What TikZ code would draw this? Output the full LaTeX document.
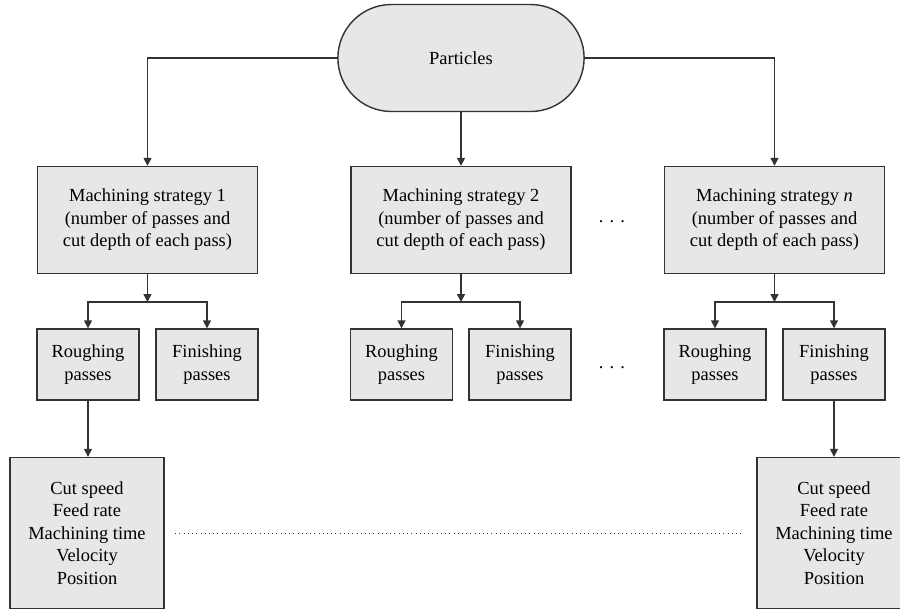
\documentclass[tikz,border=0pt]{standalone}
\usepackage{fontspec}
\setmainfont{Liberation Serif}
\usetikzlibrary{shapes.misc,arrows.meta}
\definecolor{boxfill}{HTML}{E6E7E8}
\definecolor{boxline}{HTML}{333333}
\begin{document}
\begin{tikzpicture}
[
x=0.02cm, y=-0.02cm,
font=\fontsize{10.5}{12.8}\selectfont,
>={Triangle[width=4.5pt,length=4.5pt]},
link/.style={->, draw=boxline, thick},
root/.style={rounded rectangle, draw=boxline, fill=boxfill, thick, minimum width=5.16cm, minimum height=2.14cm},
strat/.style={rectangle, draw=boxline, fill=boxfill, thick, minimum width=4.4cm, minimum height=2.14cm, align=center, inner sep=0},
pass/.style={rectangle, draw=boxline, fill=boxfill, thick, minimum width=2.04cm, minimum height=1.42cm, align=center, inner sep=0},
param/.style={rectangle, draw=boxline, fill=boxfill, thick, minimum width=3.08cm, minimum height=3.02cm, align=center, inner sep=0}
]
\useasboundingbox (0,0) rectangle (900,610);
%Nodes
\node[root]     (part)   at (461,58)    {Particles};
\node[strat]    (s1)     at (147.5,220) {Machining strategy 1\\(number of passes and\\cut depth of each pass)};
\node[strat]    (s2)     at (461,220)   {Machining strategy 2\\(number of passes and\\cut depth of each pass)};
\node[strat]    (sn)     at (774.5,220) {Machining strategy \textit{n}\\(number of passes and\\cut depth of each pass)};
\node           (dots1)  at (612,222)   {.\,\,.\,\,.};
\node[pass]     (r1)     at (88,364.5)  {Roughing\\passes};
\node[pass]     (f1)     at (207,364.5) {Finishing\\passes};
\node[pass]     (r2)     at (401.5,364.5) {Roughing\\passes};
\node[pass]     (f2)     at (520,364.5) {Finishing\\passes};
\node[pass]     (rn)     at (715,364.5) {Roughing\\passes};
\node[pass]     (fn)     at (834,364.5) {Finishing\\passes};
\node           (dots2)  at (612,368)   {.\,\,.\,\,.};
\node[param]    (c1)     at (87,533)    {Cut speed\\Feed rate\\Machining time\\Velocity\\Position};
\node[param]    (cn)     at (834,533)   {Cut speed\\Feed rate\\Machining time\\Velocity\\Position};
\coordinate     (j1)     at (147.5,302);
\coordinate     (j2)     at (461,302);
\coordinate     (jn)     at (774.5,302);

%Lines
\draw[link] (part.west) -| (s1.north);
\draw[link] (part.south) -- (s2.north);
\draw[link] (part.east) -| (sn.north);
\draw[link] (s1.south) -- (j1);
\draw[link] (j1) -| (r1.north);
\draw[link] (j1) -| (f1.north);
\draw[link] (s2.south) -- (j2);
\draw[link] (j2) -| (r2.north);
\draw[link] (j2) -| (f2.north);
\draw[link] (sn.south) -- (jn);
\draw[link] (jn) -| (rn.north);
\draw[link] (jn) -| (fn.north);
\draw[link] (r1.south) -- (r1.south |- c1.north);
\draw[link] (fn.south) -- (fn.south |- cn.north);
\draw[dotted, thin, draw=boxline, shorten <=6pt, shorten >=8pt] (c1.east) -- (cn.west);
\end{tikzpicture}
\end{document}
